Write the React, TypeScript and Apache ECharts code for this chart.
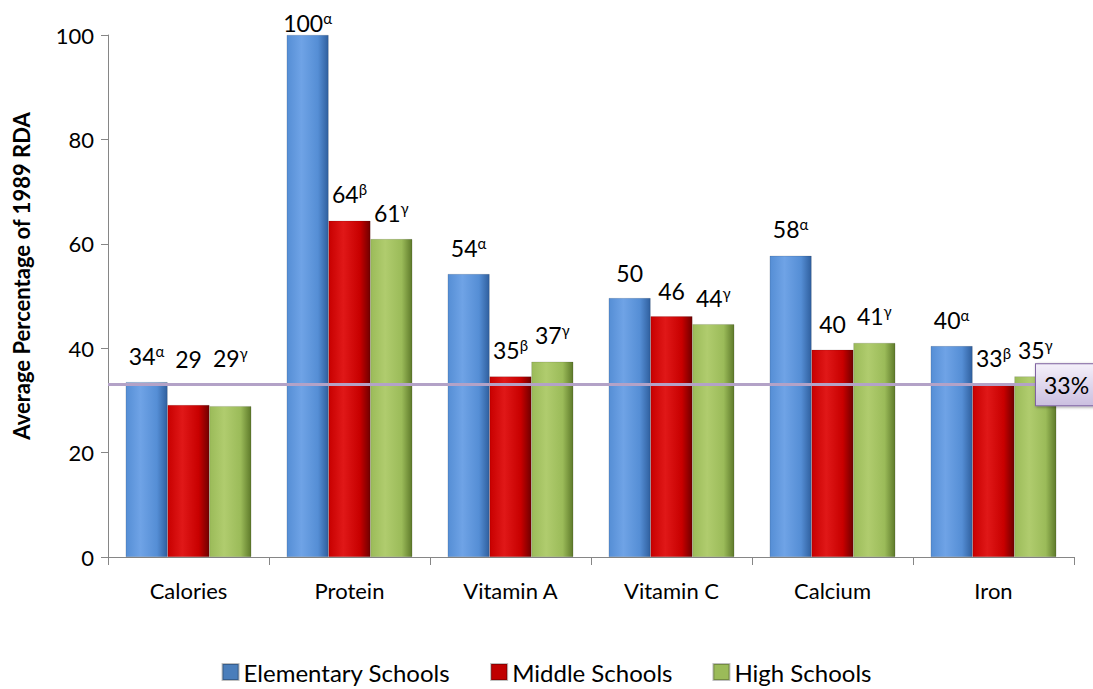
import React, { useEffect, useRef } from "react";
import * as echarts from "echarts";

const categories = ["Calories", "Protein", "Vitamin A", "Vitamin C", "Calcium", "Iron"];
const seriesNames = ["Elementary Schools", "Middle Schools", "High Schools"];
const elementary = [33.5, 100, 54.2, 49.6, 57.7, 40.4];
const middle = [29.1, 64.4, 34.6, 46.1, 39.7, 33.0];
const high = [28.9, 60.9, 37.4, 44.6, 41.0, 34.6];
const elemText = ["34", "100", "54", "50", "58", "40"];
const elemSup = ["α", "α", "α", "", "α", "α"];
const midText = ["29", "64", "35", "46", "40", "33"];
const midSup = ["", "β", "β", "", "", "β"];
const highText = ["29", "61", "37", "44", "41", "35"];
const highSup = ["γ", "γ", "γ", "γ", "γ", "γ"];
const refValue = 33;
const refText = "33%";
const yTicks = { min: 0, max: 100, interval: 20 };

const FONT = "Lato, 'Noto Sans', sans-serif";
const GRID = { left: 108, right: 19, top: 35, bottom: 132 };
const CHART_H = 689;

function grad(light: string, mid: string, dark: string) {
  return new echarts.graphic.LinearGradient(0, 0, 1, 0, [
    { offset: 0, color: mid },
    { offset: 0.35, color: light },
    { offset: 0.75, color: mid },
    { offset: 1, color: dark },
  ]);
}

export default function App() {
  const ref = useRef<HTMLDivElement>(null);
  useEffect(() => {
    if (!ref.current) return;
    const chart = echarts.init(ref.current, undefined, { renderer: "svg" });
    const colors = [
      grad("#6fa3e6", "#558ed5", "#2f5f9e"),
      grad("#e01818", "#c80000", "#700000"),
      grad("#b0cc6e", "#9bbb59", "#5e7a2a"),
    ];
    const legendColors = ["#4a7ebb", "#c00000", "#9bbb59"];
    const texts = [elemText, midText, highText];
    const sups = [elemSup, midSup, highSup];
    const datas = [elementary, middle, high];
    const pxPerUnit = (CHART_H - GRID.top - GRID.bottom) / (yTicks.max - yTicks.min);
    const baseDist = 14;
    const series: any[] = datas.map((d, si) => ({
      name: seriesNames[si],
      type: "bar",
      data: d.map((v) => {
        if (v < refValue) return { value: v, label: { distance: baseDist + (refValue - v) * pxPerUnit } };
        if (v >= yTicks.max) return { value: v, label: { distance: 0 } };
        return v;
      }),
      barGap: "0%",
      barCategoryGap: "22%",
      itemStyle: { color: colors[si], borderColor: "rgba(0,0,0,0.25)", borderWidth: 0.5 },
      label: {
        show: true,
        position: "top",
        distance: baseDist,
        formatter: (p: any) => {
          const s = sups[si][p.dataIndex];
          return "{v|" + texts[si][p.dataIndex] + "}" + (s ? "{s|" + s + "}" : "");
        },
        rich: {
          v: { fontSize: 23, color: "#000", fontFamily: FONT },
          s: { fontSize: 15, color: "#000", fontFamily: FONT, verticalAlign: "top", padding: [0, 0, 10, 0] },
        },
      },
    }));
    series[0].markLine = {
      silent: true,
      symbol: "none",
      lineStyle: { color: "#b3a2c7", width: 3, type: "solid" },
      data: [{ yAxis: refValue }],
      label: {
        show: true,
        position: "end",
        distance: -38,
        formatter: refText,
        fontSize: 23,
        fontFamily: FONT,
        color: "#000",
        padding: [9, 10, 9, 8],
        borderColor: "#8064a2",
        borderWidth: 1,
        backgroundColor: new echarts.graphic.LinearGradient(0, 0, 0, 1, [
          { offset: 0, color: "#f4f0fa" },
          { offset: 1, color: "#cbbfe0" },
        ]),
        shadowColor: "rgba(0,0,0,0.4)",
        shadowBlur: 3,
        shadowOffsetX: 1,
        shadowOffsetY: 1,
      },
    };
    chart.setOption({
      animation: false,
      textStyle: { fontFamily: FONT },
      grid: { ...GRID, containLabel: false },
      legend: {
        data: seriesNames.map((n, i) => ({ name: n, itemStyle: { color: legendColors[i] } })),
        bottom: 0,
        left: "center",
        itemWidth: 16,
        itemHeight: 16,
        itemGap: 40,
        icon: "rect",
        textStyle: { fontSize: 24, color: "#000", fontFamily: FONT },
      },
      xAxis: {
        type: "category",
        data: categories,
        axisLine: { lineStyle: { color: "#868686" } },
        axisTick: { show: true, alignWithLabel: false, length: 8, lineStyle: { color: "#868686" } },
        axisLabel: { fontSize: 22, color: "#000", margin: 22, fontFamily: FONT },
      },
      yAxis: {
        type: "value",
        min: yTicks.min,
        max: yTicks.max,
        interval: yTicks.interval,
        name: "Average Percentage of 1989 RDA",
        nameLocation: "middle",
        nameGap: 76,
        nameTextStyle: { fontSize: 22, fontWeight: "bold", color: "#000", fontFamily: FONT, padding: [0, 0, 0, 40] },
        axisLine: { show: true, lineStyle: { color: "#868686" } },
        axisTick: { show: true, length: 7, lineStyle: { color: "#868686" } },
        splitLine: { show: false },
        axisLabel: { fontSize: 22, color: "#000", margin: 14, fontFamily: FONT },
      },
      series,
    });
    return () => chart.dispose();
  }, []);
  return <div ref={ref} style={{ width: 1093, height: 689, position: "absolute", left: 0, top: 0 }} />;
}
